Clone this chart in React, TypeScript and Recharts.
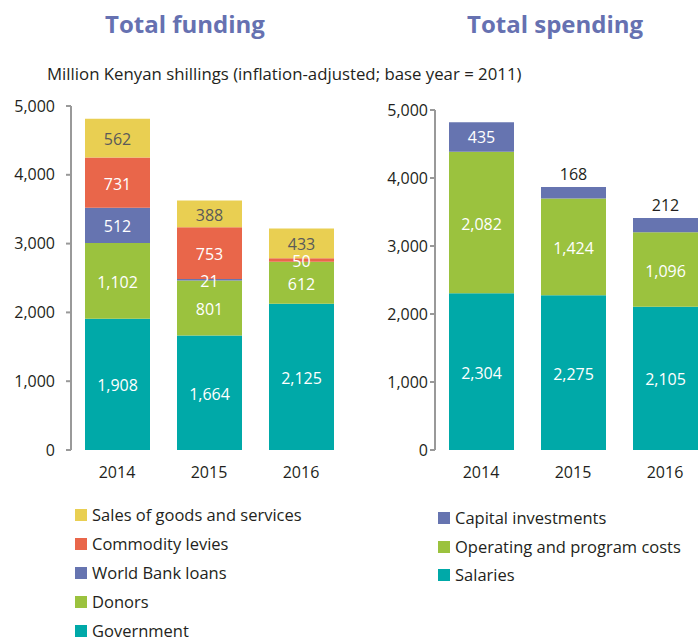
import React from 'react';
import { BarChart, Bar, XAxis, YAxis, Legend, LabelList } from 'recharts';

const years = ['2014', '2015', '2016'];

// Total funding (million KES)
const government = [1908, 1664, 2125];
const donors = [1102, 801, 612];
const worldBank = [512, 21, 0];
const commodity = [731, 753, 50];
const sales = [562, 388, 433];

// Total spending (million KES)
const salaries = [2304, 2275, 2105];
const operating = [2082, 1424, 1096];
const capital = [435, 168, 212];

const yTicks = [0, 1000, 2000, 3000, 4000, 5000];

const fundingLegendOrder = ['Sales of goods and services', 'Commodity levies', 'World Bank loans', 'Donors', 'Government'];
const spendingLegendOrder = ['Capital investments', 'Operating and program costs', 'Salaries'];

const fundingData = years.map((year, i) => ({
  year,
  government: government[i],
  donors: donors[i],
  worldBank: worldBank[i],
  commodity: commodity[i],
  sales: sales[i],
}));

const spendingData = years.map((year, i) => ({
  year,
  salaries: salaries[i],
  operating: operating[i],
  capital: capital[i],
}));

const C = {
  yellow: '#E9CF52',
  red: '#E9664A',
  blue: '#6674B0',
  green: '#9BC23E',
  teal: '#00A9A8',
  title: '#6671B1',
  text: '#231F20',
  axis: '#999999',
};

const FONT = "'Open Sans', sans-serif";
const fmt = (v: number) => v.toLocaleString('en-US');

const makeLabel = (fill: string) => (props: any) => {
  const { x, y, width, height, value } = props;
  if (!value) return null;
  return (
    <text
      x={x + width / 2}
      y={y + height / 2 + 1}
      fill={fill}
      fontSize={16}
      fontFamily={FONT}
      textAnchor="middle"
      dominantBaseline="central"
    >
      {fmt(value)}
    </text>
  );
};

const capitalLabel = (props: any) => {
  const { x, y, width, height, value } = props;
  const small = value < 300;
  return (
    <text
      x={x + width / 2}
      y={small ? y - 13 : y + height / 2}
      fill={small ? C.text : '#fff'}
      fontSize={16}
      fontFamily={FONT}
      textAnchor="middle"
      dominantBaseline="central"
    >
      {fmt(value)}
    </text>
  );
};

const renderLegend = (order: string[], gap: number) => (props: any) => {
  const items = [...(props.payload || [])].sort((a: any, b: any) => order.indexOf(a.value) - order.indexOf(b.value));
  return (
    <div style={{ fontFamily: FONT }}>
      {items.map((it: any, i: number) => (
        <div
          key={it.value}
          style={{ display: 'flex', alignItems: 'center', height: 18, marginTop: i === 0 ? 0 : gap }}
        >
          <span style={{ width: 12, height: 12, background: it.color, marginRight: 5, display: 'inline-block' }} />
          <span style={{ fontSize: 16.5, lineHeight: '18px', color: C.text, whiteSpace: 'nowrap' }}>{it.value}</span>
        </div>
      ))}
    </div>
  );
};

const titleStyle: React.CSSProperties = {
  position: 'absolute',
  top: 9,
  fontFamily: FONT,
  fontWeight: 700,
  fontSize: 24,
  lineHeight: '30px',
  color: C.title,
  whiteSpace: 'nowrap',
};

export default function App() {
  return (
    <div style={{ position: 'absolute', left: 0, top: 0, width: 699, height: 640, overflow: 'hidden', background: '#fff' }}>
      <div style={{ ...titleStyle, left: 105 }}>Total funding</div>
      <div style={{ ...titleStyle, left: 467 }}>Total spending</div>
      <div
        style={{
          position: 'absolute',
          left: 47,
          top: 64,
          fontFamily: FONT,
          fontSize: 16.8,
          lineHeight: '20px',
          color: C.text,
          whiteSpace: 'nowrap',
        }}
      >
        Million Kenyan shillings (inflation-adjusted; base year = 2011)
      </div>

      <div style={{ position: 'absolute', left: 0, top: 0 }}>
        <BarChart width={360} height={640} data={fundingData} margin={{ top: 106, right: 13, bottom: 160, left: 11 }} barSize={65}>
          <XAxis dataKey="year" axisLine={false} tickLine={false} tickMargin={11} height={30} tick={{ fill: C.text, fontSize: 16, fontFamily: FONT }} />
          <YAxis
            domain={[0, 5000]}
            ticks={yTicks}
            interval={0}
            width={60}
            tickFormatter={fmt}
            axisLine={{ stroke: C.axis, strokeWidth: 2 }}
            tickLine={{ stroke: C.axis, strokeWidth: 2 }}
            tickSize={5}
            tickMargin={11}
            tick={{ fill: C.text, fontSize: 16, fontFamily: FONT }}
          />
          <Legend
            layout="vertical"
            align="center"
            verticalAlign="middle"
            wrapperStyle={{ left: 75, top: 506, width: 280 }}
            content={renderLegend(fundingLegendOrder, 11)}
          />
          <Bar dataKey="government" name="Government" stackId="a" fill={C.teal} isAnimationActive={false}>
            <LabelList dataKey="government" content={makeLabel('#fff')} />
          </Bar>
          <Bar dataKey="donors" name="Donors" stackId="a" fill={C.green} isAnimationActive={false}>
            <LabelList dataKey="donors" content={makeLabel('#fff')} />
          </Bar>
          <Bar dataKey="worldBank" name="World Bank loans" stackId="a" fill={C.blue} isAnimationActive={false}>
            <LabelList dataKey="worldBank" content={makeLabel('#fff')} />
          </Bar>
          <Bar dataKey="commodity" name="Commodity levies" stackId="a" fill={C.red} isAnimationActive={false}>
            <LabelList dataKey="commodity" content={makeLabel('#fff')} />
          </Bar>
          <Bar dataKey="sales" name="Sales of goods and services" stackId="a" fill={C.yellow} isAnimationActive={false}>
            <LabelList dataKey="sales" content={makeLabel('#5a5a5a')} />
          </Bar>
        </BarChart>
      </div>

      <div style={{ position: 'absolute', left: 360, top: 0 }}>
        <BarChart width={360} height={640} data={spendingData} margin={{ top: 110, right: 9, bottom: 160, left: 15 }} barSize={65}>
          <XAxis dataKey="year" axisLine={false} tickLine={false} tickMargin={11} height={30} tick={{ fill: C.text, fontSize: 16, fontFamily: FONT }} />
          <YAxis
            domain={[0, 5000]}
            ticks={yTicks}
            interval={0}
            width={60}
            tickFormatter={fmt}
            axisLine={{ stroke: C.axis, strokeWidth: 2 }}
            tickLine={{ stroke: C.axis, strokeWidth: 2 }}
            tickSize={5}
            tickMargin={2}
            tick={{ fill: C.text, fontSize: 16, fontFamily: FONT }}
          />
          <Legend
            layout="vertical"
            align="center"
            verticalAlign="middle"
            wrapperStyle={{ left: 78, top: 509, width: 280 }}
            content={renderLegend(spendingLegendOrder, 10.5)}
          />
          <Bar dataKey="salaries" name="Salaries" stackId="b" fill={C.teal} isAnimationActive={false}>
            <LabelList dataKey="salaries" content={makeLabel('#fff')} />
          </Bar>
          <Bar dataKey="operating" name="Operating and program costs" stackId="b" fill={C.green} isAnimationActive={false}>
            <LabelList dataKey="operating" content={makeLabel('#fff')} />
          </Bar>
          <Bar dataKey="capital" name="Capital investments" stackId="b" fill={C.blue} isAnimationActive={false}>
            <LabelList dataKey="capital" content={capitalLabel} />
          </Bar>
        </BarChart>
      </div>
    </div>
  );
}
